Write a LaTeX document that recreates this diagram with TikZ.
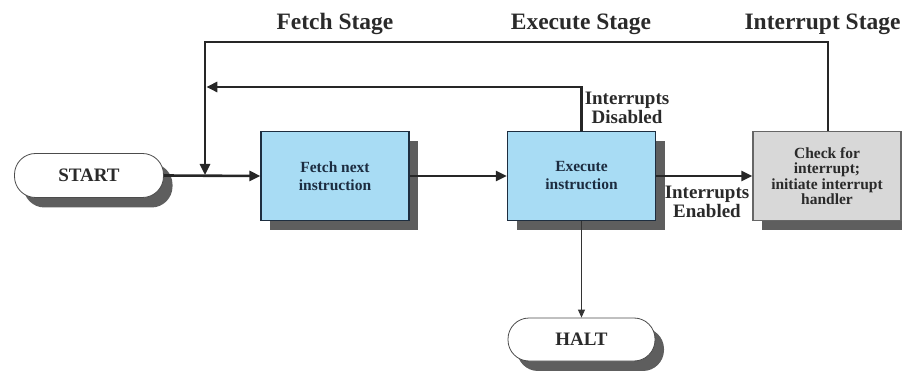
\documentclass[tikz,border=0pt]{standalone}
\usepackage{fontspec}
\setmainfont{Liberation Serif}
\usetikzlibrary{arrows.meta,shadows}
\definecolor{boxblue}{HTML}{A8DCF4}
\definecolor{boxgray}{HTML}{D8D8D8}
\definecolor{shadowgray}{HTML}{5E5E5E}
\definecolor{inkblue}{HTML}{1E2E40}
\definecolor{txt}{HTML}{2A2A2A}
\definecolor{navytxt}{HTML}{1C2C40}
\tikzset{
  every node/.style={text=txt,font=\bfseries},
  shad/.style={drop shadow={shadow xshift=9pt,shadow yshift=-10pt,fill=shadowgray,opacity=1}},
  stepbox/.style={shad,draw=inkblue,line width=1.2pt,fill=boxblue,minimum width=148pt,minimum height=89pt,align=center,inner sep=0pt,text=navytxt,font=\bfseries\fontsize{15.5}{18}\selectfont},
  graybox/.style={stepbox,draw=gray!80!black,fill=boxgray,text=txt,font=\bfseries\fontsize{15.5}{15.5}\selectfont},
  term/.style={shad,draw=black!70,line width=0.8pt,fill=white,rounded corners=21pt,minimum width=149pt,minimum height=44pt,inner sep=0pt,font=\bfseries\fontsize{19}{22}\selectfont},
  flow/.style={line width=2.6pt,draw=black!85,-{Triangle[length=11pt,width=10pt]}},
  line/.style={line width=2.6pt,draw=black!85},
  stagetitle/.style={font=\bfseries\fontsize{23.5}{28}\selectfont},
  lbl/.style={align=center,font=\bfseries\fontsize{19}{19.5}\selectfont}
}
\begin{document}
\begin{tikzpicture}[x=1pt,y=-1pt]
\useasboundingbox (0,0) rectangle (902,371);
% nodes
\node[term] (start) at (89,175.5) {START};
\node[stepbox] (fetch) at (335,176) {Fetch next\\instruction};
\node[stepbox] (exec) at (581.5,176) {Execute\\instruction};
\node[graybox,minimum width=148pt] (check) at (827,176) {Check for\\interrupt;\\initiate interrupt\\handler};
\node[term,minimum width=147pt,minimum height=43pt] (halt) at (581.5,339.5) {HALT};
% titles and labels
\node[stagetitle] (t1) at (335,24) {Fetch Stage};
\node[stagetitle] (t2) at (581,24) {Execute Stage};
\node[stagetitle,anchor=west] (t3) at (741,24) {Interrupt Stage};
\node[lbl] (dis) at (627,108) {Interrupts\\Disabled};
\node[lbl] (en) at (707,202) {Interrupts\\Enabled};
% coordinates
\coordinate (j) at (205,175);
\coordinate (topL) at (205,42);
\coordinate (topR) at (828,42);
\coordinate (midR) at (581.5,87);
\coordinate (midL) at (205,87);
% connectors
\draw[flow] (start.east) -- (fetch.west);
\draw[flow] (fetch.east) -- (exec.west);
\draw[flow] (exec.east) -- (check.west);
\draw[line,-{Triangle[length=11pt,width=10pt]}] (check.north -| topR) -- (topR) -- (topL) -- (j);
\draw[line,-{Triangle[length=11pt,width=10pt]}] (exec.north) -- (midR) -- ([xshift=1.3pt]midL);
\draw[line width=0.9pt,draw=black!80,-{Triangle[length=8pt,width=7pt]}] (exec.south) -- (halt.north);
\end{tikzpicture}
\end{document}
